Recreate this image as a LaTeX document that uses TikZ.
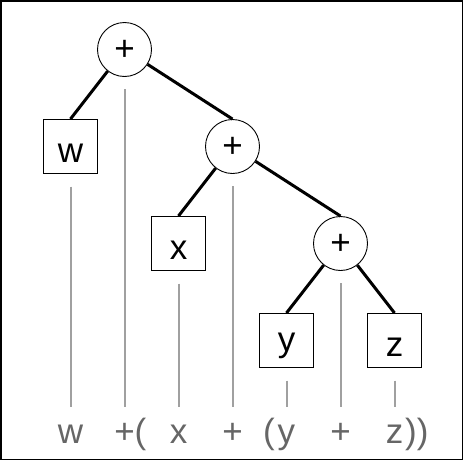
\documentclass[tikz,border=0pt]{standalone}
\usepackage{fontspec}
\setmainfont{Liberation Sans}
\begin{document}
\begin{tikzpicture}[x=1pt,y=-1pt,
  op/.style={circle,draw,line width=0.9pt,minimum size=54pt,inner sep=0pt,
    font=\fontsize{35}{35}\selectfont,text height=22pt,text depth=0pt},
  leaf/.style={rectangle,draw,line width=1.1pt,minimum size=54pt,inner sep=0pt,
    font=\fontsize{35}{35}\selectfont,text height=31pt,text depth=0pt},
  edge/.style={line width=3pt},
  guide/.style={line width=2pt,color=guidegray},
  tok/.style={anchor=base,inner sep=0pt,text=tokgray,font=\fontsize{35}{35}\selectfont}]
\definecolor{guidegray}{HTML}{A0A0A0}
\definecolor{tokgray}{HTML}{666666}
\useasboundingbox (0,0) rectangle (464,461);
\fill[white] (0,0) rectangle (464,461);
\draw[line width=1.6pt] (1.2,1.2) rectangle (462.6,459.6);
% tree
\node[op]   (r1) at (124.5,49.5)  {+};
\node[leaf] (w)  at (70.5,146.5)  {w};
\node[op]   (r2) at (232.5,146.5) {+};
\node[leaf] (x)  at (178.5,243.5) {x};
\node[op]   (r3) at (340.5,243.5) {+};
\node[leaf,text height=21.4pt] (y) at (286.5,340.5) {y};
\node[leaf] (z)  at (394.5,340.5) {z};
\draw[edge] (r1) -- (w.north);
\draw[edge] (r1) -- (r2.north);
\draw[edge] (r2) -- (x.north);
\draw[edge] (r2) -- (r3.north);
\draw[edge] (r3) -- (y.north);
\draw[edge] (r3) -- (z.north);
% guide lines
\foreach \n in {r1,w,r2,x,r3,y,z}{
  \coordinate (\n-top) at ([yshift=-12.5pt]\n.south);
  \coordinate (\n-bot) at (\n.south |- 0,407);
  \draw[guide] (\n-top) -- (\n-bot);
}
% token line
\node[tok] (t1) at (70.5,443)  {w};
\node[tok] (t2) at (124.5,443) {+\rlap{(}};
\node[tok] (t3) at (178.5,443) {x};
\node[tok] (t4) at (232.5,443) {+};
\node[tok] (t5) at (286.5,443) {\llap{(\kern3pt}y};
\node[tok] (t6) at (340.5,443) {+};
\node[tok] (t7) at (394.5,443) {z\rlap{\kern2pt))}};
\end{tikzpicture}
\end{document}
